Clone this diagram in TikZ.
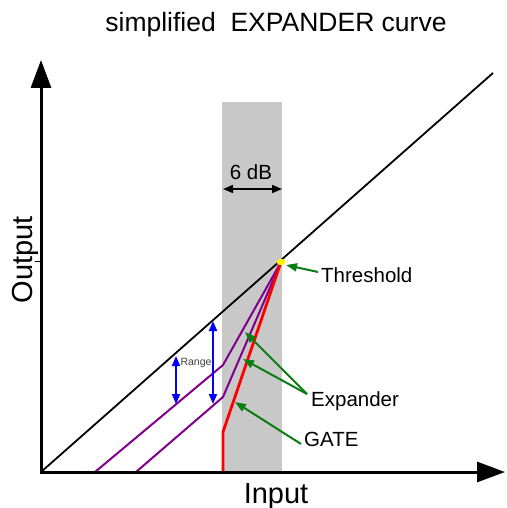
\documentclass[tikz,border=0pt]{standalone}
\usepackage{fontspec}
\setmainfont{Liberation Sans}
\usetikzlibrary{arrows.meta}
\definecolor{bandgray}{RGB}{200,200,200}
\definecolor{grn}{RGB}{10,125,20}
\definecolor{purp}{RGB}{128,0,140}
\definecolor{blu}{RGB}{0,0,255}
\tikzset{
  axisline/.style={line width=3pt,-{Triangle[length=28pt,width=20pt]}},
  curveline/.style={line width=2pt},
  rangearrow/.style={blu,line width=1.8pt,{Triangle[length=10pt,width=8pt]}-{Triangle[length=10pt,width=8pt]}},
  pointer/.style={grn,line width=2pt,-{Triangle[length=11pt,width=8pt]}},
  lbl/.style={inner sep=0pt,font=\fontsize{20.5}{22}\selectfont},
  biglbl/.style={inner sep=0pt,font=\fontsize{29}{31}\selectfont},
}
\begin{document}
\begin{tikzpicture}[x=1pt,y=-1pt]
\useasboundingbox (0,0) rectangle (506,508);
% shaded 6 dB band
\fill[bandgray] (222,102) rectangle (282,472);
% key points
\coordinate (O) at (41,472);
\coordinate (Ytop) at (41,60);
\coordinate (Xend) at (505,472);
\coordinate (Dend) at (493,73);
\coordinate (T) at (281,262);
\coordinate (r0) at (223,472);
\coordinate (r1) at (223,432);
\coordinate (p0) at (95,472);
\coordinate (p1) at (223,365);
\coordinate (q0) at (136,472);
\coordinate (q1) at (223,397);
\coordinate (tk) at (35,261);
% unity line
\draw[line width=1.8pt] (O) -- (Dend);
% expander curves
\draw[curveline,purp] (p0) -- (p1) -- (T);
\draw[curveline,purp] (q0) -- (q1) -- (T);
% gate
\draw[red,line width=2.8pt] (r0) -- (r1) -- (T);
% axes
\draw[axisline] (O) -- (Ytop);
\draw[axisline] (O) -- (Xend);
\fill (39.5,470.5) rectangle (42.5,473.5);
\draw[line width=1pt] (tk) -- (tk -| O);
% threshold dot
\fill[yellow] (T) ellipse (4.5pt and 3.2pt);
% range arrows
\coordinate (a1) at (176,356);
\coordinate (a2) at (176,404);
\coordinate (b1) at (213,321);
\coordinate (b2) at (213,404);
\draw[rangearrow] (a1) -- (a2);
\draw[rangearrow] (b1) -- (b2);
\node[inner sep=0pt,font=\fontsize{10.5}{11}\selectfont,text=black!75] (rng) at (196,363) {Range};
% 6 dB
\coordinate (d1) at (223,189);
\coordinate (d2) at (282,189);
\draw[line width=1.5pt,{Triangle[length=10pt,width=8pt]}-{Triangle[length=10pt,width=8pt]}] (d1) -- (d2);
\node[lbl,anchor=base] (sixdb) at (251,179) {6 dB};
% labels
\node[lbl,anchor=base west] (thr) at (321,282) {Threshold};
\node[lbl,anchor=base west] (exp) at (311,406) {Expander};
\node[lbl,anchor=base west] (gate) at (304,446) {GATE};
\coordinate (thrT) at (318,272);
\coordinate (thrH) at (286,265);
\coordinate (expT) at (307,394);
\coordinate (expH1) at (245,332);
\coordinate (expH2) at (243,359);
\coordinate (gateT) at (301,444);
\coordinate (gateH) at (235,402);
\draw[pointer] (thrT) -- (thrH);
\draw[pointer] (expT) -- (expH1);
\draw[pointer] (expT) -- (expH2);
\draw[pointer] (gateT) -- (gateH);
% title and axis names
\node[inner sep=0pt,anchor=base,font=\fontsize{26.5}{28}\selectfont] (title) at (276,32) {simplified\ \ EXPANDER curve};
\node[biglbl,anchor=base] (inp) at (276,503) {Input};
\node[biglbl,anchor=base,rotate=90] (outp) at (32,260) {Output};
\end{tikzpicture}
\end{document}
